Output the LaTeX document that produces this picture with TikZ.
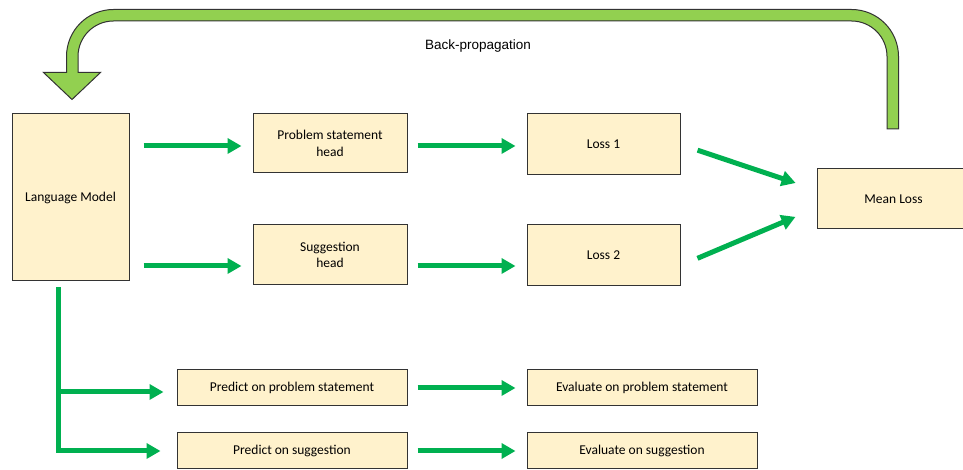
\documentclass[tikz,border=0pt]{standalone}
\usepackage{fontspec}
\setmainfont{Carlito}
\newfontfamily\arialfont{Liberation Sans}
\usetikzlibrary{arrows.meta}
\definecolor{boxfill}{HTML}{FFF2CC}
\definecolor{flowgreen}{HTML}{00B050}
\definecolor{backgreen}{HTML}{92D050}

\begin{document}
\begin{tikzpicture}[x=1pt,y=1pt,
		box/.style={draw=black!80, line width=1pt, fill=boxfill, inner sep=0pt, align=center, font=\fontsize{13.5}{16.5}\selectfont},
		flow/.style={draw=flowgreen, line width=5pt, -{Triangle[length=14pt,width=15pt]}}]
		\useasboundingbox (0,0) rectangle (963,470);
		\clip (0,0) rectangle (963,470);
		\filldraw[fill=backgreen, draw=black!80, line width=1pt] (898.5,341) -- (898.5,413.5) arc (0:90:47) -- (113.5,460.5) arc (90:180:47) -- (66.5,397.5) -- (43.5,397.5) -- (72,370.5) -- (100.5,397.5) -- (78,397.5) -- (78,413.5) arc (180:90:35.5) -- (851.5,449) arc (90:0:35.5) -- (887,341) -- cycle;
		\node[font=\arialfont\fontsize{13.5}{16}\selectfont] (bp) at (478,424) {Back-propagation};
		\node[box, minimum width=117, minimum height=167] (lm) at (70.5,272.5) {Language Model};
		\node[box, minimum width=154, minimum height=59] (psh) at (330,326.5) {Problem statement\\head};
		\node[box, minimum width=154, minimum height=60] (sgh) at (330,215) {Suggestion\\head};
		\node[box, minimum width=153, minimum height=61] (l1) at (603.5,325.5) {Loss 1};
		\node[box, minimum width=153, minimum height=61] (l2) at (603.5,214.5) {Loss 2};
		\node[box, minimum width=160, minimum height=60] (ml) at (897,271) {\hspace*{-7pt}Mean Loss};
		\node[box, minimum width=230, minimum height=36] (pps) at (292,82) {Predict on problem statement};
		\node[box, minimum width=230, minimum height=36] (psg) at (292,19) {Predict on suggestion};
		\node[box, minimum width=230, minimum height=36] (eps) at (642,82) {Evaluate on problem statement};
		\node[box, minimum width=230, minimum height=36] (esg) at (642,19) {Evaluate on suggestion};
		\coordinate (split) at ([xshift=-12.5pt,yshift=-6pt]lm.south);
		\draw[flow, shorten <=14pt, shorten >=11pt] (lm.east |- psh.west) ++(0,-2.5) -- ([yshift=-2.5pt]psh.west);
		\draw[flow, shorten <=14pt, shorten >=11pt] (lm.east |- sgh.west) ++(0,-11) -- ([yshift=-11pt]sgh.west);
		\draw[flow, shorten <=10pt, shorten >=11pt] ([yshift=-2.5pt]psh.east) -- ([yshift=-2.5pt]l1.west |- psh.east);
		\draw[flow, shorten <=10pt, shorten >=11pt] ([yshift=-11pt]sgh.east) -- ([yshift=-11pt]l2.west |- sgh.east);
		\draw[flow, shorten <=18pt, shorten >=22pt] (l1.east) -- ([yshift=9pt]ml.west);
		\draw[flow, shorten <=18.4pt, shorten >=22.8pt] ([yshift=-10pt]l2.east) -- ([yshift=-9pt]ml.west);
		\draw[flow, shorten >=13pt] (split) |- ([yshift=-4pt]pps.west);
		\draw[flow, shorten >=16pt] (split) |- (psg.west);
		\draw[flow, shorten <=10pt, shorten >=11pt] (pps.east) -- (eps.west);
		\draw[flow, shorten <=10pt, shorten >=11pt] (psg.east) -- (esg.west);
	\end{tikzpicture}
\end{document}
